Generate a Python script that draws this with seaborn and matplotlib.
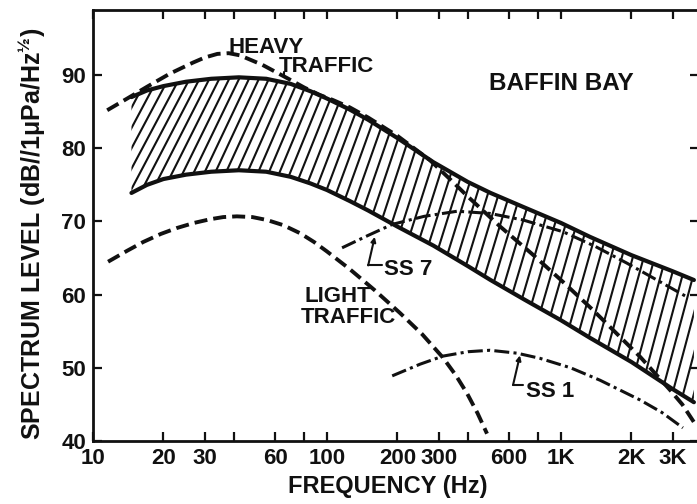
import numpy as np
import pandas as pd
import matplotlib
matplotlib.use("Agg")
import matplotlib.pyplot as plt
import seaborn as sns
from matplotlib.collections import LineCollection
from matplotlib.ticker import FixedLocator, FixedFormatter, NullLocator

# ---- ambient noise spectra, Baffin Bay (frequency in Hz, level in dB re 1 uPa/Hz^1/2) ----
band_freq = [14.6, 17, 20, 25, 32, 42, 55, 70, 85, 100, 125, 150, 200, 285, 400, 500, 700, 1000, 1330, 2000, 3000, 3700]
band_upper = [87.0, 87.9, 88.5, 89.1, 89.5, 89.7, 89.5, 88.8, 87.8, 86.8, 85.3, 83.9, 81.4, 78.1, 75.4, 73.9, 71.9, 69.8, 67.9, 65.4, 63.2, 62.0]
band_lower = [73.9, 75.0, 75.8, 76.4, 76.8, 77.0, 76.8, 76.1, 75.2, 74.3, 72.8, 71.5, 69.3, 66.7, 63.9, 62.0, 59.3, 56.5, 54.1, 50.8, 47.1, 45.3]

heavy_freq = [11.5, 14, 17, 21.3, 26.7, 30, 34, 38, 42.5, 53, 67.5, 80, 93, 106, 125, 150, 200, 275,
              330, 400, 550, 750, 1000, 1370, 2180, 2920, 3300, 3750]
heavy_db = [85.2, 86.8, 88.4, 90.2, 91.7, 92.4, 92.9, 93.0, 92.7, 91.4, 89.6, 88.3, 87.3, 86.6, 85.6, 84.2, 81.7, 78.4,
            76.0, 73.4, 69.3, 65.6, 62.0, 57.9, 51.5, 47.0, 45.0, 42.3]

light_freq = [11.6, 14, 16.4, 19.5, 22.8, 27, 31.6, 36, 41.2, 48, 55.4, 65, 76.7, 88, 100, 125, 160, 205, 255,
              313, 355, 397, 440, 483]
light_db = [64.5, 66.0, 67.2, 68.3, 69.1, 69.8, 70.3, 70.6, 70.7, 70.6, 70.2, 69.5, 68.4, 67.2, 65.9, 63.5, 60.6,
            57.5, 54.6, 51.4, 49.0, 46.5, 43.8, 41.0]

ss7_freq = [116, 150, 190, 260, 360, 497, 689, 1020, 1400, 1915, 3450]
ss7_db = [66.4, 68.1, 69.6, 70.7, 71.4, 71.1, 70.2, 68.6, 66.6, 64.3, 59.7]

ss1_freq = [190, 250, 313, 400, 497, 649, 813, 1100, 1470, 2180, 2700, 3320]
ss1_db = [48.9, 50.5, 51.6, 52.2, 52.4, 52.0, 51.3, 50.0, 48.3, 45.6, 43.9, 41.8]

x_ticks = [10, 20, 30, 40, 60, 80, 100, 200, 300, 400, 600, 800, 1000, 2000, 3000]
x_tick_labels = ["10", "20", "30", "", "60", "", "100", "200", "300", "", "600", "", "1K", "2K", "3K"]
y_ticks = [40, 50, 60, 70, 80, 90]
y_tick_labels = ["40", "50", "60", "70", "80", "90"]

sns.set_theme(style="ticks")
plt.rcParams["font.family"] = ["Liberation Sans", "DejaVu Sans"]
plt.rcParams["font.weight"] = "bold"
plt.rcParams["axes.labelweight"] = "bold"
plt.rcParams["mathtext.fontset"] = "custom"
plt.rcParams["mathtext.rm"] = "Liberation Sans:bold"
plt.rcParams["mathtext.bf"] = "Liberation Sans:bold"
plt.rcParams["mathtext.it"] = "Liberation Sans:bold"

W_PX, H_PX = 697, 504
fig = plt.figure(figsize=(W_PX / 100, H_PX / 100), dpi=100, facecolor="white")
ax = fig.add_axes([93 / W_PX, 63 / H_PX, 606 / W_PX, 431 / H_PX])
ax.set_facecolor("white")
ax.set_xscale("log")
ax.set_xlim(10, 3890)
ax.set_ylim(40, 98.9)

ink = "#111111"
TRAFFIC_DASH = (0, (3.35, 1.55))
SEA_DASHDOT = (0, (4.9, 1.4, 1.0, 1.4))

# hatched band between the two solid bounds
band = ax.fill_between(band_freq, band_lower, band_upper, facecolor="none", edgecolor="none")
ax_w, ax_h = 606.0, 431.0
mid = np.arange(-120, 760, 10.8)
ang = np.radians(np.interp(mid, [37, 307, 597], [62, 72, 75]))
run = ax_h / np.tan(ang)
segs = [[((m - 0.6 * r) / ax_w, 0.0), ((m + 0.4 * r) / ax_w, 1.0)] for m, r in zip(mid, run)]
hatch = LineCollection(segs, transform=ax.transAxes, colors=ink, linewidths=1.5, zorder=1)
ax.add_collection(hatch)
hatch.set_clip_path(band.get_paths()[0], ax.transData)

line_kw = dict(ax=ax, color=ink, estimator=None, sort=False, legend=False)
sns.lineplot(x=band_freq, y=band_upper, linewidth=3.0, zorder=3, **line_kw)
sns.lineplot(x=band_freq, y=band_lower, linewidth=3.0, zorder=3, **line_kw)
sns.lineplot(x=heavy_freq, y=heavy_db, linewidth=2.8, linestyle=TRAFFIC_DASH, zorder=4, **line_kw)
sns.lineplot(x=light_freq, y=light_db, linewidth=2.8, linestyle=TRAFFIC_DASH, zorder=4, **line_kw)
sns.lineplot(x=ss7_freq, y=ss7_db, linewidth=2.2, linestyle=SEA_DASHDOT, zorder=4, **line_kw)
sns.lineplot(x=ss1_freq, y=ss1_db, linewidth=2.2, linestyle=SEA_DASHDOT, zorder=4, **line_kw)

# curve labels
txt = dict(color=ink, fontsize=16, fontweight="bold", ha="center", va="baseline")
ax.text(54.8, 93.0, "HEAVY", **txt)
ax.text(99.2, 90.4, "TRAFFIC", **txt)
ax.plot([65.6, 65.6], [90.4, 89.7], color=ink, lw=1.5)
ax.text(1009, 88.0, "BAFFIN BAY", **{**txt, "fontsize": 17.5})
ax.text(111, 59.0, "LIGHT", **txt)
ax.text(123, 56.1, "TRAFFIC", **txt)
ax.text(222, 62.7, "SS 7", **txt)
ax.text(898, 46.0, "SS 1", **txt)

# leaders for the sea-state curves
for tip, corner, end in [((160, 67.9), (150, 64.0), (172, 64.0)),
                         ((668, 51.7), (624, 47.65), (689, 47.65))]:
    ax.plot([corner[0], end[0]], [corner[1], end[1]], color=ink, lw=1.5)
    ax.annotate("", xy=tip, xytext=corner,
                arrowprops=dict(arrowstyle="-|>", color=ink, lw=1.5, mutation_scale=7,
                                shrinkA=0, shrinkB=0))

# axes, ticks and labels
ax.xaxis.set_major_locator(FixedLocator(x_ticks))
ax.xaxis.set_major_formatter(FixedFormatter(x_tick_labels))
ax.xaxis.set_minor_locator(NullLocator())
ax.yaxis.set_major_locator(FixedLocator(y_ticks))
ax.yaxis.set_major_formatter(FixedFormatter(y_tick_labels))
ax.yaxis.set_minor_locator(NullLocator())
ax.tick_params(axis="both", which="major", direction="in", length=6.5, width=1.6,
               color=ink, labelcolor=ink, labelsize=16, top=True, right=True, pad=5)
for lab in ax.get_xticklabels() + ax.get_yticklabels():
    lab.set_fontweight("bold")
for s in ax.spines.values():
    s.set_linewidth(2.0)
    s.set_color(ink)

ax.set_xlabel("FREQUENCY (Hz)", fontsize=17, fontweight="bold", color=ink, va="center")
ax.xaxis.set_label_coords((388 - 93) / ax_w, (441 - 486) / ax_h)
ax.set_ylabel("SPECTRUM LEVEL (dB//1\u03bcPa/Hz$^{\u00bd}$)", fontsize=18, fontweight="bold",
              color=ink, va="center")
ax.yaxis.set_label_coords((32 - 93) / ax_w, (441 - 234) / ax_h)
ax.grid(False)

fig.savefig("out.png", dpi=100, facecolor="white")
